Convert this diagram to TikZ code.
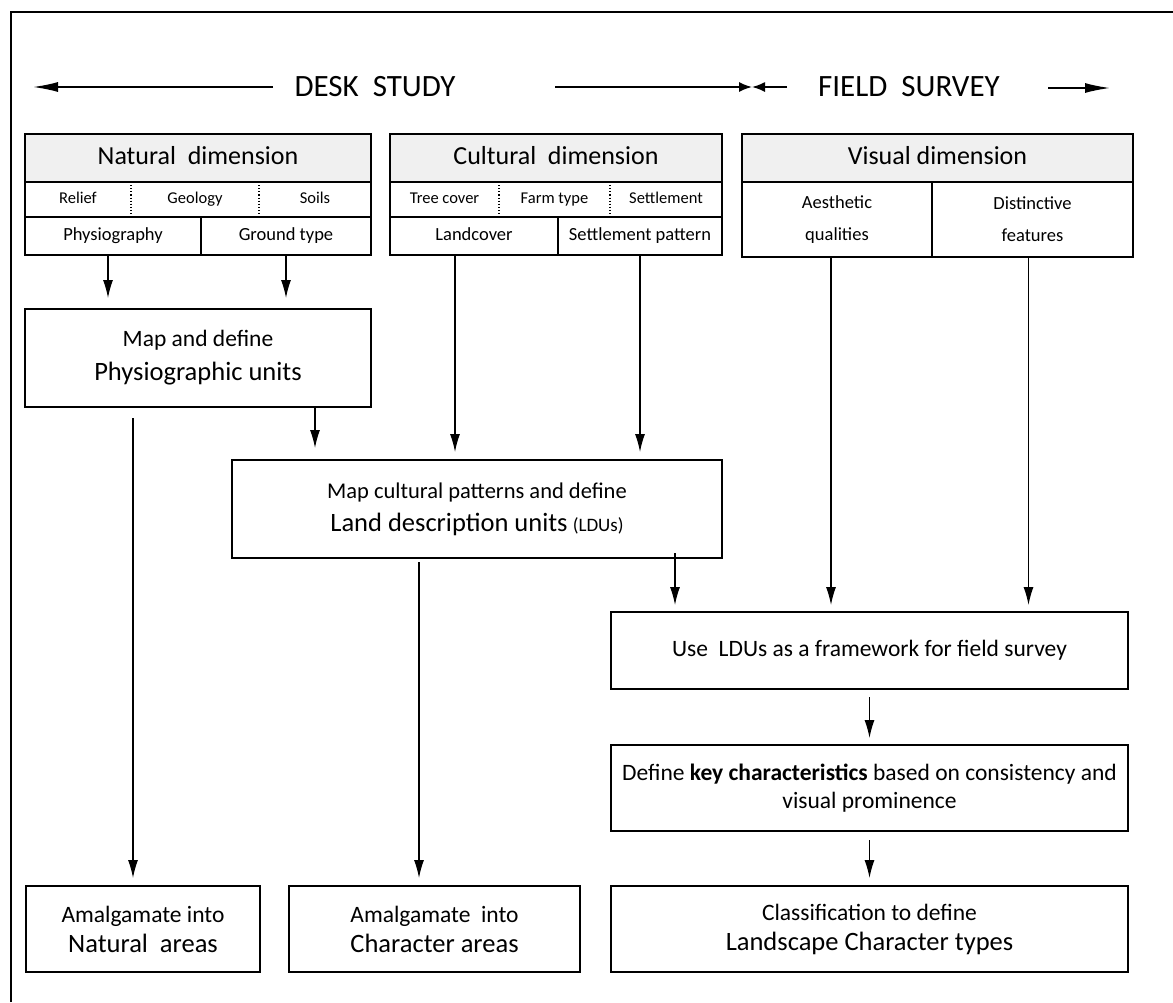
\documentclass[tikz,border=0pt]{standalone}
\usepackage{fontspec}
\setmainfont{Carlito}
\usetikzlibrary{arrows.meta}

\definecolor{hdrgray}{RGB}{240,240,240}
\newcommand{\hdrfnt}{\fontsize{26}{30}\selectfont}
\newcommand{\cellfnt}{\fontsize{16.5}{19}\selectfont}
\newcommand{\midfnt}{\fontsize{18.5}{32}\selectfont}
\newcommand{\bodyfnt}{\fontsize{23.5}{28}\selectfont}
\newcommand{\unitfnt}{\fontsize{26.5}{30}\selectfont}
\newcommand{\bannerfnt}{\fontsize{31}{36}\selectfont}

\begin{document}
\begin{tikzpicture}[x=1pt,y=-1pt,
    box/.style={draw,line width=2.2pt,inner sep=0pt,outer sep=0pt,align=center},
    hdr/.style={box,fill=hdrgray,font=\hdrfnt,minimum height=48pt,text height=18.7pt,text depth=5.7pt},
    cell/.style={box,font=\midfnt},
    oneline/.style={text height=13.3pt,text depth=4.1pt},
    subcell/.style={font=\cellfnt,text height=11.9pt,text depth=3.6pt},
    arr/.style={-{Latex[length=18pt,width=10pt]},line width=1.2pt},
    bigarr/.style={-{Latex[length=25pt,width=10pt]},line width=1.6pt},
    midarr/.style={-{Latex[length=13pt,width=10pt]},line width=1.6pt},
    dotline/.style={dotted,line width=1.1pt}]
    \useasboundingbox (0,0) rectangle (1173,1002);
    \draw[line width=2.5pt] (11,1002) -- (11,12) -- (1173,12);

    \node[font=\bannerfnt] (desk) at (375,87) {DESK~~STUDY};
    \node[font=\bannerfnt] (survey) at (909,87) {FIELD~~SURVEY};
    \coordinate (dltip) at (33,87);
    \coordinate (ml) at (555,87);
    \coordinate (mtip) at (752,87);
    \coordinate (mr) at (787,87);
    \coordinate (rs) at (1048,88);
    \coordinate (rtip) at (1110,88);
    \path[bigarr] (desk.west) edge[shorten <=18pt] (dltip)
        (rs) edge (rtip);
    \path[midarr] (ml) edge (mtip)
        (mr) edge (mtip);

    \node[hdr,minimum width=346pt] (nat) at (198,158) {Natural~~dimension};
    \node[subcell] (relief) at (78,199.5) {Relief};
    \node[subcell] (geology) at (195,199.5) {Geology};
    \node[subcell] (soils) at (315,199.5) {Soils};
    \node[cell,oneline,minimum width=176pt,minimum height=38pt] (physio) at (113,236) {Physiography};
    \node[cell,oneline,minimum width=170pt,minimum height=38pt] (ground) at (286,236) {Ground type};
    \draw[line width=2.2pt] (nat.north west) rectangle (ground.south east);
    \draw[dotline] (131,182) -- (131,217);
    \draw[dotline] (259,182) -- (259,217);

    \node[hdr,minimum width=332pt] (cult) at (556,158) {Cultural~~dimension};
    \node[subcell] (tree) at (444.5,199.5) {Tree cover};
    \node[subcell] (farm) at (554.5,199.5) {Farm type};
    \node[subcell] (settle) at (666,199.5) {Settlement};
    \node[cell,oneline,minimum width=168pt,minimum height=38pt] (landcover) at (474,236) {Landcover};
    \node[cell,oneline,minimum width=164pt,minimum height=38pt] (settpat) at (640,236) {Settlement pattern};
    \draw[line width=2.2pt] (cult.north west) rectangle (settpat.south east);
    \draw[dotline] (499,182) -- (499,217);
    \draw[dotline] (610,182) -- (610,217);

    \node[hdr,minimum width=391pt] (vis) at (937.5,158) {Visual dimension};
    \node[cell,minimum width=190pt,minimum height=75pt] (aesth) at (837,219.5) {Aesthetic\\qualities};
    \node[cell,minimum width=201pt,minimum height=75pt] (distinct) at (1032.5,219.5) {Distinctive\\features};

    \node[box,font=\bodyfnt,minimum width=346pt,minimum height=98pt] (mapphys) at (198,358)
        {Map and define\\[6pt]{\unitfnt Physiographic units}};
    \node[box,font=\fontsize{22.5}{28}\selectfont,minimum width=490pt,minimum height=98pt] (ldu) at (477,509)
        {Map cultural patterns and define\\[5pt]{\unitfnt Land description units} {\fontsize{19}{22}\selectfont(LDUs)}};
    \node[box,font=\bodyfnt,minimum width=517pt,minimum height=77pt] (field) at (869.5,650.5)
        {Use~~LDUs as a framework for field survey};
    \node[box,font=\bodyfnt,minimum width=517pt,minimum height=86pt] (key) at (869.5,788)
        {Define \textbf{key characteristics} based on consistency and\\visual prominence};
    \node[box,font=\bodyfnt,minimum width=234pt,minimum height=86pt] (natareas) at (143,929)
        {Amalgamate into\\[2pt]{\unitfnt Natural~~areas}};
    \node[box,font=\bodyfnt,minimum width=291pt,minimum height=86pt] (charareas) at (434.5,929)
        {Amalgamate~~into\\[2pt]{\unitfnt Character areas}};
    \node[box,font=\bodyfnt,minimum width=517pt,minimum height=86pt] (landtypes) at (869.5,929)
        {Classification to define\\[2pt]{\unitfnt Landscape Character types}};

    \coordinate (n1) at ([xshift=-5pt]physio.south);
    \coordinate (c1) at ([xshift=-19pt]landcover.south);
    \coordinate (v1) at ([xshift=-6pt]aesth.south);
    \coordinate (v2) at ([xshift=-4pt]distinct.south);
    \coordinate (p1) at ([xshift=117pt]mapphys.south);
    \coordinate (p2) at ([xshift=-65pt]mapphys.south);
    \coordinate (l1) at ([xshift=-58pt]ldu.south);
    \coordinate (l2) at ([xshift=198pt]ldu.south);

    \path[arr] (n1) edge[shorten >=11pt] (n1 |- mapphys.north)
        (ground.south) edge[shorten >=11pt] (ground.south |- mapphys.north)
        (c1) edge[shorten >=8pt] (c1 |- ldu.north)
        (settpat.south) edge[shorten >=8pt] (settpat.south |- ldu.north)
        (p1) edge[shorten >=12pt] (p1 |- ldu.north)
        (p2) edge[shorten <=11pt,shorten >=8pt] (p2 |- natareas.north)
        (l1) edge[shorten <=4pt,shorten >=8pt] (l1 |- charareas.north)
        (l2) edge[shorten <=-5pt,shorten >=7pt] (l2 |- field.north)
        (v1) edge[shorten >=7pt] (v1 |- field.north)
        (v2) edge[shorten >=7pt] (v2 |- field.north)
        (field.south) edge[shorten <=8pt,shorten >=7pt] (key.north)
        (key.south) edge[shorten <=9pt,shorten >=8pt] (landtypes.north);
\end{tikzpicture}
\end{document}
